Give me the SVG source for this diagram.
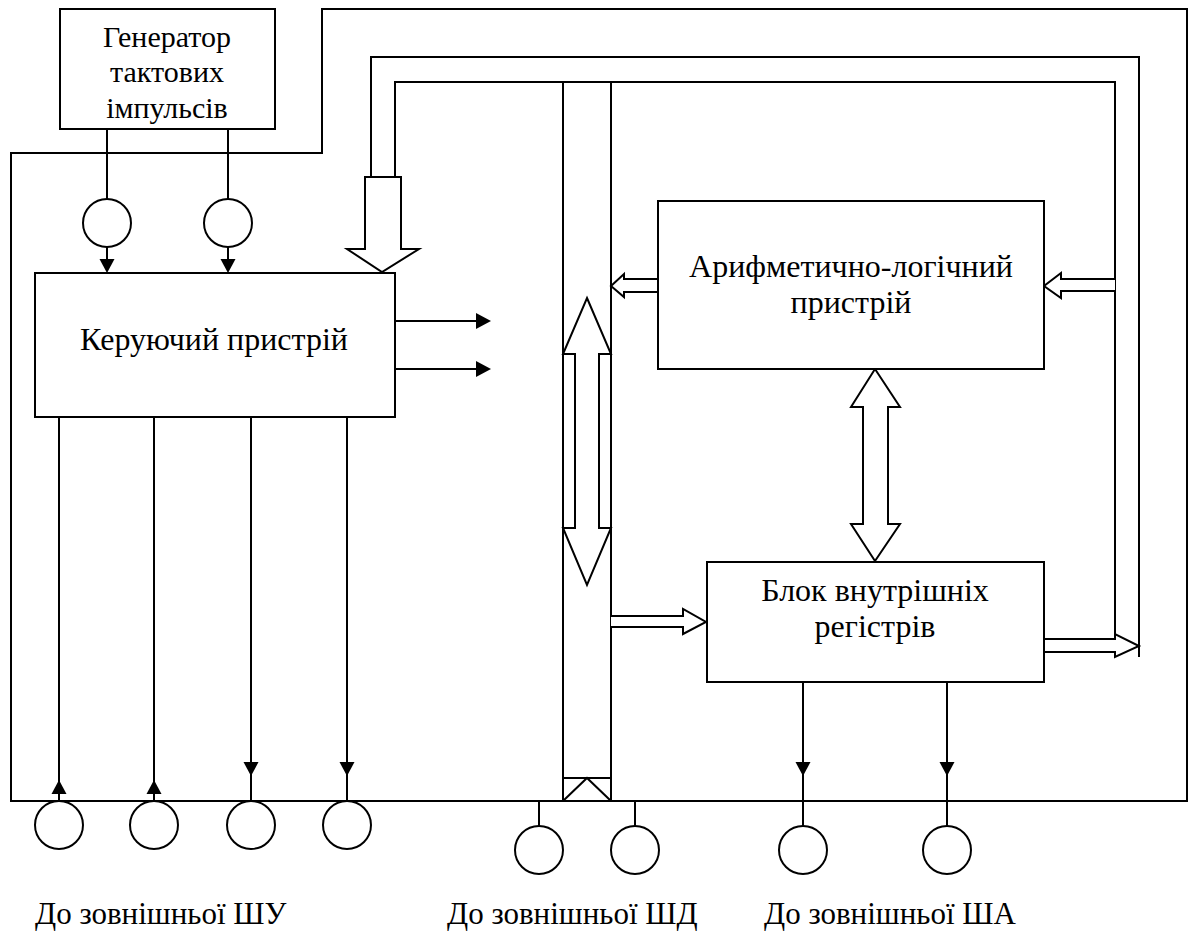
<svg xmlns="http://www.w3.org/2000/svg" width="1195" height="931" viewBox="0 0 1195 931">
<style>
.ln{fill:none;stroke:#000;stroke-width:2}
.box{fill:#fff;stroke:#000;stroke-width:2}
.hol{fill:#fff;stroke:#000;stroke-width:2;stroke-linejoin:miter}
.ah{fill:#000;stroke:none}
.t{font-family:'Liberation Serif','DejaVu Serif',serif;font-size:32px;fill:#000}
.g{font-size:30px}
.lb{font-size:31px}
.c{text-anchor:middle}
</style>
<defs>
<polygon id="aDown" class="ah" points="-7.5,-14 7.5,-14 0,0"/>
<polygon id="aUp" class="ah" points="-7.5,14 7.5,14 0,0"/>
<polygon id="aRight" class="ah" points="-15,-8 -15,8 0,0"/>
</defs>
<rect width="1195" height="931" fill="#fff"/>

<g id="connectors">
<path class="ln" d="M322,9 H1187 V801 H11 V153 H322 Z"/>
<path class="ln" d="M371,177 V57 H1139 V657"/>
<path class="ln" d="M395,177 V82 H1115 V639"/>
<path class="ln" d="M563,82 V801 M611,82 V801 M563,778 H611 M563,801 L587,778 L611,801"/>
<path class="ln" d="M107,129 V199 M107,246 V260 M228,129 V199 M228,246 V260"/>
<use href="#aDown" x="107" y="273"/>
<use href="#aDown" x="228" y="273"/>
<circle class="ln" cx="107" cy="223" r="24"/>
<circle class="ln" cx="228" cy="223" r="24"/>
<path class="ln" d="M395,321 H478 M395,369 H478"/>
<use href="#aRight" x="491" y="321"/>
<use href="#aRight" x="491" y="369"/>
<path class="ln" d="M59,417 V801 M154,417 V801 M251,417 V801 M347,417 V801"/>
<use href="#aUp" x="59" y="780"/>
<use href="#aUp" x="154" y="780"/>
<use href="#aDown" x="251" y="776"/>
<use href="#aDown" x="347" y="776"/>
<circle class="ln" cx="59" cy="825" r="24"/>
<circle class="ln" cx="154" cy="825" r="24"/>
<circle class="ln" cx="251" cy="825" r="24"/>
<circle class="ln" cx="347" cy="825" r="24"/>
<path class="ln" d="M539,801 V826 M635,801 V826"/>
<circle class="ln" cx="539" cy="850" r="24"/>
<circle class="ln" cx="635" cy="850" r="24"/>
<path class="ln" d="M803,682 V826 M947,682 V826"/>
<use href="#aDown" x="803" y="776"/>
<use href="#aDown" x="947" y="776"/>
<circle class="ln" cx="803" cy="850" r="24"/>
<circle class="ln" cx="947" cy="850" r="24"/>
<polygon class="hol" points="365,177 401,177 401,249 419,249 382,272 347,249 365,249"/>
<polygon class="hol" points="587,298 611,354 599,354 599,528 611,528 587,585 563,528 575,528 575,354 563,354"/>
<polygon class="hol" points="875,369 900,407 888,407 888,524 900,524 875,561 851,524 863,524 863,407 851,407"/>
<polyline class="hol" points="658,279 624,279 624,274 611,286 624,297 624,292 658,292"/>
<polyline class="hol" points="1115,279 1061,279 1061,273 1044,286 1061,298 1061,291 1115,291"/>
<polyline class="hol" points="611,616 683,616 683,609 706,622 683,634 683,627 611,627"/>
<polyline class="hol" points="1044,639 1115,639 1115,634 1139,646 1115,657 1115,652 1044,652"/>
</g>

<g id="generator">
<rect class="box" x="60" y="9" width="215" height="120"/>
<text class="t g c" x="167" y="47">Генератор</text>
<text class="t g c" x="167" y="82">тактових</text>
<text class="t g c" x="167" y="118">імпульсів</text>
</g>

<g id="control">
<rect class="box" x="35" y="273" width="360" height="144"/>
<text class="t c" x="214" y="350">Керуючий пристрій</text>
</g>

<g id="alu">
<rect class="box" x="658" y="201" width="386" height="168"/>
<text class="t c" x="851" y="277">Арифметично-логічний</text>
<text class="t c" x="851" y="313">пристрій</text>
</g>

<g id="registers">
<rect class="box" x="707" y="562" width="337" height="120"/>
<text class="t c" x="875" y="601">Блок внутрішніх</text>
<text class="t c" x="875" y="637">регістрів</text>
</g>

<g id="labels">
<text class="t lb" x="35" y="924">До зовнішньої ШУ</text>
<text class="t lb" x="447" y="924">До зовнішньої ШД</text>
<text class="t lb" x="764" y="924">До зовнішньої ША</text>
</g>
</svg>
